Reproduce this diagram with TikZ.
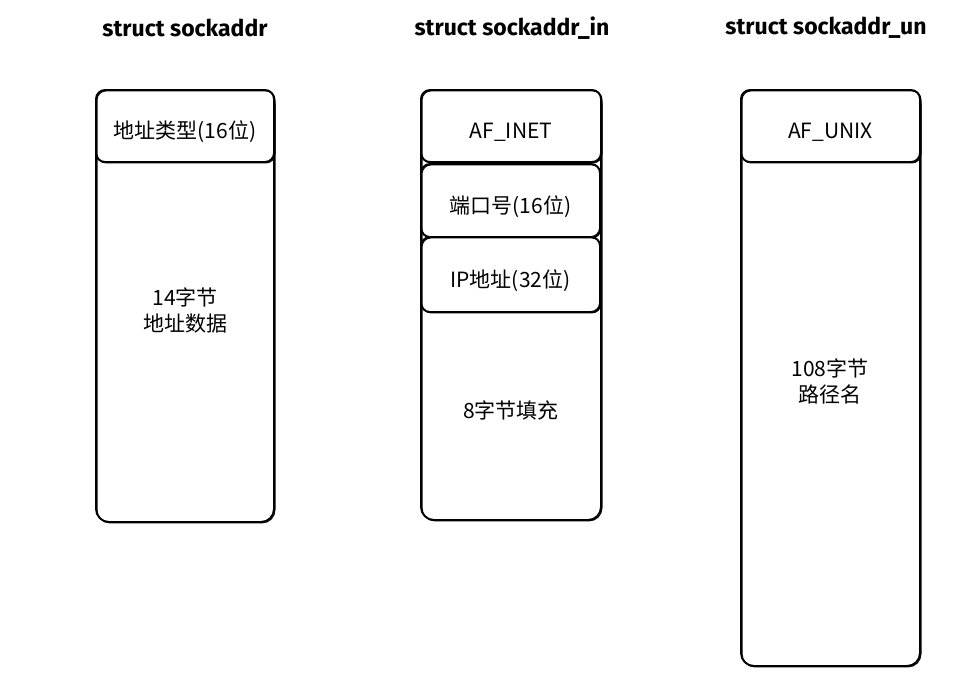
\documentclass[tikz,border=0pt]{standalone}
\usepackage{fontspec}
\setmainfont{Fira Sans}
\newfontfamily\cjk{Noto Sans CJK SC}
\usetikzlibrary{positioning}

\tikzset{
  sketch/.style = {draw, fill=white, line width=1.9pt, rounded corners=13pt, inner sep=0pt,
    postaction={draw, line width=1pt, rounded corners=13pt, transform canvas={shift={(1pt,-.9pt)}}}},
  cell/.style = {sketch, rounded corners=9pt, text height=25pt, text depth=0pt,
    font=\cjk\fontsize{21}{26}\selectfont},
  title/.style = {font=\bfseries\fontsize{23}{27}\selectfont},
  label/.style = {font=\cjk\fontsize{21}{26}\selectfont, align=center}
}

\begin{document}
\begin{tikzpicture}[x=1pt,y=-1pt]
\useasboundingbox (0,0) rectangle (974,694);
% struct sockaddr
\node [title] (t1) at (185,28) {struct sockaddr};
\node [sketch, minimum width=178, minimum height=432] (sa) at (185,306) {};
\node [cell, minimum width=178, minimum height=72] (satype) at (185,126) {地址类型(16位)};
\node [label] (sadata) at (185,310) {14字节\\地址数据};
% struct sockaddr_in
\node [title] (t2) at (512,28) {struct sockaddr\_in};
\node [sketch, minimum width=180, minimum height=430] (sin) at (511,305) {};
\node [cell, minimum width=180, minimum height=72] (sinfam) at (511,126) {AF\_INET};
\node [cell, minimum width=179, minimum height=73] (sinport) at (510.5,200.5) {端口号(16位)};
\node [cell, minimum width=179, minimum height=75] (sinaddr) at (510.5,274.5) {IP地址(32位)};
\node [label] (sinzero) at (511,410) {8字节填充};
% struct sockaddr_un
\node [title] (t3) at (826,28) {struct sockaddr\_un};
\node [sketch, minimum width=179, minimum height=576] (sun) at (830.5,378) {};
\node [cell, minimum width=179, minimum height=72] (sunfam) at (830.5,126) {AF\_UNIX};
\node [label] (sunpath) at (830,381) {108字节\\路径名};
\end{tikzpicture}
\end{document}
